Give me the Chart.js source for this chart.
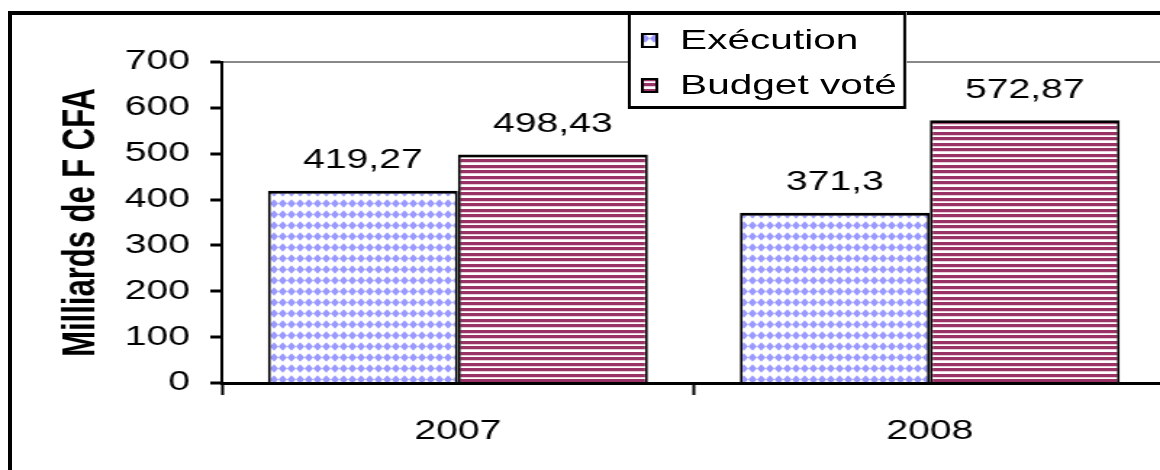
<!DOCTYPE html>
<html>
<head>
<meta charset="utf-8">
<script src="https://cdn.jsdelivr.net/npm/chart.js@4"></script>
<style>
  html, body { margin: 0; padding: 0; background: #fff; overflow: hidden; width: 1160px; height: 470px; }
  #frame { position: absolute; left: 8px; top: 11px; width: 1200px; height: 500px; border: 4px solid #000; box-sizing: border-box; }
  /* the original picture is stretched sideways, so the whole chart is too */
  #stage { position: absolute; left: 0; top: 0; width: 804px; height: 470px; transform: scaleX(1.45); transform-origin: 0 0; }
  #chart { position: absolute; left: 0; top: 0; }
  #legend { position: absolute; left: 433px; top: 12px; width: 192px; height: 97px; background: #fff;
    border-style: solid; border-color: #000; border-width: 3px 2px; box-sizing: border-box;
    font: 28px "Liberation Sans", Arial, sans-serif; color: #000; }
  .item { position: absolute; left: 0; height: 40px; display: flex; align-items: center; white-space: nowrap; }
  .item canvas { margin-left: 7px; margin-right: 15px; flex: none; width: 12px; height: 15px; }
</style>
</head>
<body>
<div id="frame"></div>
<div id="stage">
  <canvas id="chart" width="804" height="470"></canvas>
  <div id="legend"></div>
</div>
<script>
const years = ["2007", "2008"]
const seriesNames = ["Exécution", "Budget voté"]
const execution = [419.27, 371.3]
const budget = [498.43, 572.87]
const yTicks = [0, 100, 200, 300, 400, 500, 600, 700]

const FONT = '"Liberation Sans", Arial, sans-serif'

// fill patterns
function dotPattern(ctx) {
  const c = document.createElement("canvas")
  c.width = 6
  c.height = 11
  const g = c.getContext("2d")
  g.fillStyle = "#fff"
  g.fillRect(0, 0, 6, 11)
  g.fillStyle = "#9999ff"
  g.beginPath()
  g.moveTo(3, 1.2)
  g.lineTo(5.9, 5.5)
  g.lineTo(3, 9.8)
  g.lineTo(0.1, 5.5)
  g.closePath()
  g.fill()
  return ctx.createPattern(c, "repeat")
}

function stripePattern(ctx) {
  const c = document.createElement("canvas")
  c.width = 4
  c.height = 11
  const g = c.getContext("2d")
  g.fillStyle = "#fff"
  g.fillRect(0, 0, 4, 11)
  g.fillStyle = "#993366"
  g.fillRect(0, 0, 4, 3)
  g.fillRect(0, 5, 4, 3)
  g.fillStyle = "#e9cddb"
  g.fillRect(0, 3, 4, 1)
  g.fillRect(0, 8, 4, 1)
  return ctx.createPattern(c, "repeat")
}

const chartCanvas = document.getElementById("chart")
const mainCtx = chartCanvas.getContext("2d")
const fills = [dotPattern(mainCtx), stripePattern(mainCtx)]

// value labels above bars
const valueLabels = {
  id: "valueLabels",
  afterDatasetsDraw(chart) {
    const { ctx } = chart
    ctx.save()
    ctx.font = "27px " + FONT
    ctx.fillStyle = "#000"
    ctx.textAlign = "center"
    ctx.textBaseline = "middle"
    chart.data.datasets.forEach((ds, i) => {
      chart.getDatasetMeta(i).data.forEach((bar, j) => {
        ctx.fillText(String(ds.data[j]).replace(".", ","), bar.x, bar.y - 30)
      })
    })
    ctx.restore()
  },
}

const barBorder = { top: 3, left: 2, right: 2, bottom: 0 }

const chart = new Chart(chartCanvas, {
  type: "bar",
  data: {
    labels: years,
    datasets: [
      { label: seriesNames[0], data: execution, backgroundColor: fills[0], borderColor: "#000", borderWidth: barBorder, borderSkipped: false },
      { label: seriesNames[1], data: budget, backgroundColor: fills[1], borderColor: "#000", borderWidth: barBorder, borderSkipped: false },
    ],
  },
  options: {
    responsive: false,
    animation: false,
    devicePixelRatio: 1,
    categoryPercentage: 0.805,
    barPercentage: 1,
    layout: { padding: { top: 62, left: 0, right: 0, bottom: 0 } },
    plugins: {
      legend: { display: false },
      tooltip: { enabled: false },
    },
    scales: {
      x: {
        offset: true,
        afterFit: (s) => { s.height = 87 },
        border: { color: "#000", width: 3 },
        grid: { offset: true, drawOnChartArea: false, tickColor: "#000", tickWidth: 2, tickLength: 12 },
        ticks: { color: "#000", padding: 20, font: { family: FONT, size: 27 } },
      },
      y: {
        min: 0,
        max: 700,
        afterFit: (s) => { s.width = 153 },
        afterBuildTicks: (s) => { s.ticks = yTicks.map((v) => ({ value: v })) },
        border: { color: "#000", width: 2 },
        grid: {
          color: (c) => (c.tick && c.tick.value === 700 ? "#888" : "rgba(0,0,0,0)"),
          lineWidth: 2,
          tickColor: "#000",
          tickWidth: 3,
          tickLength: 8,
        },
        ticks: { color: "#000", padding: 14, font: { family: FONT, size: 27 } },
        title: {
          display: true,
          text: "Milliards de F CFA",
          color: "#000",
          font: { family: FONT, size: 31, weight: "bold" },
          padding: { top: 38, bottom: 0 },
        },
      },
    },
  },
  plugins: [valueLabels],
})

// legend built from the series names, drawn with the same fills
const legend = document.getElementById("legend")
seriesNames.forEach((name, i) => {
  const item = document.createElement("div")
  item.className = "item"
  item.style.top = (5 + i * 45) + "px"
  const sw = document.createElement("canvas")
  sw.width = 12
  sw.height = 15
  const g = sw.getContext("2d")
  g.fillStyle = i === 0 ? dotPattern(g) : stripePattern(g)
  g.fillRect(0, 0, 12, 15)
  g.strokeStyle = "#000"
  g.lineWidth = 2
  g.strokeRect(1, 1, 10, 13)
  item.appendChild(sw)
  const txt = document.createElement("span")
  txt.textContent = name
  item.appendChild(txt)
  legend.appendChild(item)
})
</script>
</body>
</html>
